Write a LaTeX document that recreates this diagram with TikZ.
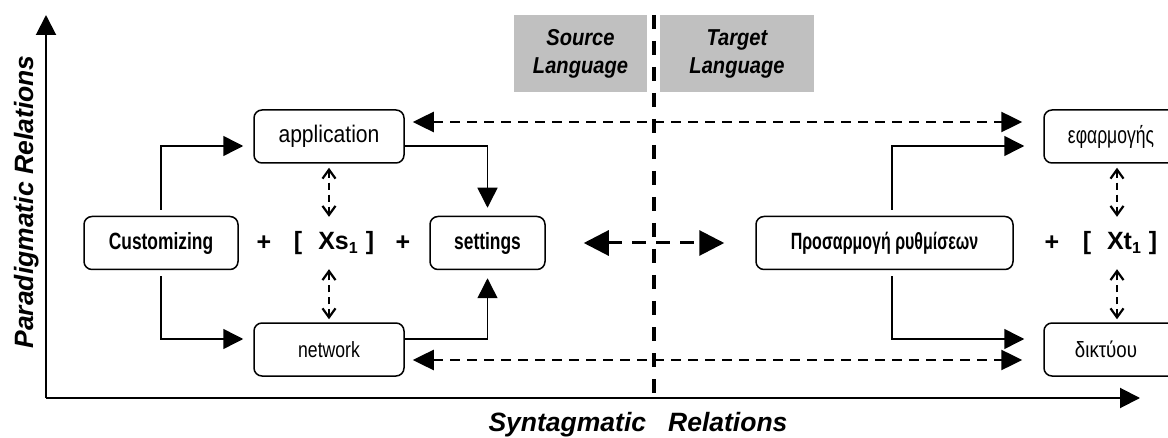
\documentclass[tikz,border=0pt]{standalone}
\usepackage{fontspec}
\usepackage{graphicx}
\setmainfont{Liberation Sans}
\usetikzlibrary{arrows.meta}
\definecolor{labelgray}{HTML}{C0C0C0}
\newcommand{\hsqz}[2]{\scalebox{#1}[1]{#2}}
\begin{document}
\begin{tikzpicture}[x=1pt,y=1pt,
  box/.style={draw, line width=1.5pt, rounded corners=8pt, minimum height=53pt, inner sep=0pt, font=\fontsize{24}{28}\selectfont},
  smallbox/.style={box, font=\fontsize{22}{26}\selectfont},
  bbox/.style={box, font=\bfseries\fontsize{23.5}{27}\selectfont},
  langbox/.style={fill=labelgray, inner sep=0pt, minimum height=77pt, align=center, font=\bfseries\itshape\fontsize{23}{28}\selectfont},
  bigtxt/.style={inner sep=0pt, font=\bfseries\fontsize{25}{30}\selectfont},
  axislabel/.style={inner sep=0pt, font=\bfseries\itshape\fontsize{26.5}{30}\selectfont},
  solidarr/.style={line width=1.5pt, -{Triangle[length=20pt,width=20pt]}},
  axisarr/.style={line width=2pt, -{Triangle[length=20pt,width=20pt]}},
  bidash/.style={line width=2.5pt, dash pattern=on 10pt off 7pt, {Triangle[length=21pt,width=20pt]}-{Triangle[length=21pt,width=20pt]}},
  bidashbig/.style={line width=3pt, dash pattern=on 14pt off 10pt, {Triangle[length=25pt,width=25pt]}-{Triangle[length=25pt,width=25pt]}},
  smalld/.style={line width=2.2pt, dash pattern=on 7pt off 5pt, {Straight Barb[length=9pt,width=13pt,line width=2.2pt]}-{Straight Barb[length=9pt,width=13pt,line width=2.2pt]}},
  divider/.style={line width=3.5pt, dash pattern=on 14pt off 12pt}
]
\useasboundingbox (0,0) rectangle (1168,437);

% axes
\coordinate (origin) at (46,39);
\coordinate (ytip) at (46,422);
\coordinate (xtip) at (1140,39);
\draw[axisarr] (origin) -- (ytip);
\draw[axisarr] (origin) -- (xtip);
\node[axislabel, rotate=90, anchor=base] (plabel) at (33,235) {Paradigmatic Relations};
\node[axislabel, anchor=base] (slabel) at (638,6) {Syntagmatic\ \ \ Relations};

% language labels
\node[langbox, minimum width=133pt] (src) at (580.5,383.5) {\hsqz{0.875}{Source}\\\hsqz{0.875}{Language}};
\node[langbox, minimum width=154pt] (tgt) at (737,383.5) {\hsqz{0.875}{Target}\\\hsqz{0.875}{Language}};

% divider
\coordinate (divtop) at (654,422);
\coordinate (divbot) at (654,39);
\draw[divider] (divtop) -- (divbot);

% boxes
\node[bbox, minimum width=154pt] (cust) at (161,194) {\hsqz{0.74}{Customizing}};
\node[box, minimum width=150pt] (app) at (329,300.5) {\hsqz{0.88}{application}};
\node[smallbox, minimum width=150pt] (net) at (329,87.5) {\hsqz{0.8}{network}};
\node[bbox, minimum width=115pt] (set) at (487.5,194) {\hsqz{0.74}{settings}};
\node[bbox, minimum width=257pt] (pros) at (884.5,194) {\hsqz{0.68}{Προσαρμογή ρυθμίσεων}};
\node[box, minimum width=146pt] (efa) at (1117,300.5) {\hspace*{-12pt}\hsqz{0.73}{εφαρμογής}};
\node[smallbox, minimum width=146pt] (dik) at (1117,87.5) {\hspace*{-22pt}\hsqz{0.85}{δικτύου}};

% formula pieces
\node[bigtxt] (p1) at (264,194) {+};
\node[bigtxt] (lb1) at (298,194) {[};
\node[bigtxt, minimum height=52pt] (xs) at (338,194) {Xs\raisebox{-0.3ex}{\fontsize{16}{16}\selectfont 1}};
\node[bigtxt] (rb1) at (370,194) {]};
\node[bigtxt] (p2) at (403,194) {+};
\node[bigtxt] (p3) at (1052,194) {+};
\node[bigtxt] (lb2) at (1087,194) {[};
\node[bigtxt, minimum height=52pt] (xt) at (1124,194) {Xt\raisebox{-0.3ex}{\fontsize{16}{16}\selectfont 1}};
\node[bigtxt] (rb2) at (1153,194) {]};

% solid arrows
\draw[solidarr, shorten <=6pt, shorten >=10pt] (cust.north) |- ([yshift=-9.5pt]app.west);
\draw[solidarr, shorten <=6pt, shorten >=10pt] (cust.south) |- ([yshift=10.5pt]net.west);
\draw[solidarr, shorten >=8pt] ([yshift=-9.5pt]app.east) -| (set.north);
\draw[solidarr, shorten >=8pt] ([yshift=10.5pt]net.east) -| (set.south);
\draw[solidarr, shorten <=6pt, shorten >=19pt] ([xshift=7.5pt]pros.north) |- ([yshift=-9.5pt]efa.west);
\draw[solidarr, shorten <=6pt, shorten >=19pt] ([xshift=7.5pt]pros.south) |- ([yshift=10.5pt]dik.west);

% dashed correspondences
\draw[bidash, shorten <=8pt, shorten >=21pt] ([yshift=14.5pt]app.east) -- ([yshift=14.5pt]efa.west);
\draw[bidash, shorten <=8pt, shorten >=21pt] ([yshift=-10.5pt]net.east) -- ([yshift=-10.5pt]dik.west);
\draw[bidashbig, shorten <=38pt, shorten >=31pt] (set.east) -- (pros.west);

% small paradigmatic arrows
\draw[smalld] ([yshift=-4pt]app.south) -- (app.south |- xs.north);
\draw[smalld] ([yshift=3pt]net.north) -- (net.north |- xs.south);
\draw[smalld] ([yshift=-4pt]efa.south) -- (efa.south |- xt.north);
\draw[smalld] ([yshift=3pt]dik.north) -- (dik.north |- xt.south);
\end{tikzpicture}
\end{document}
